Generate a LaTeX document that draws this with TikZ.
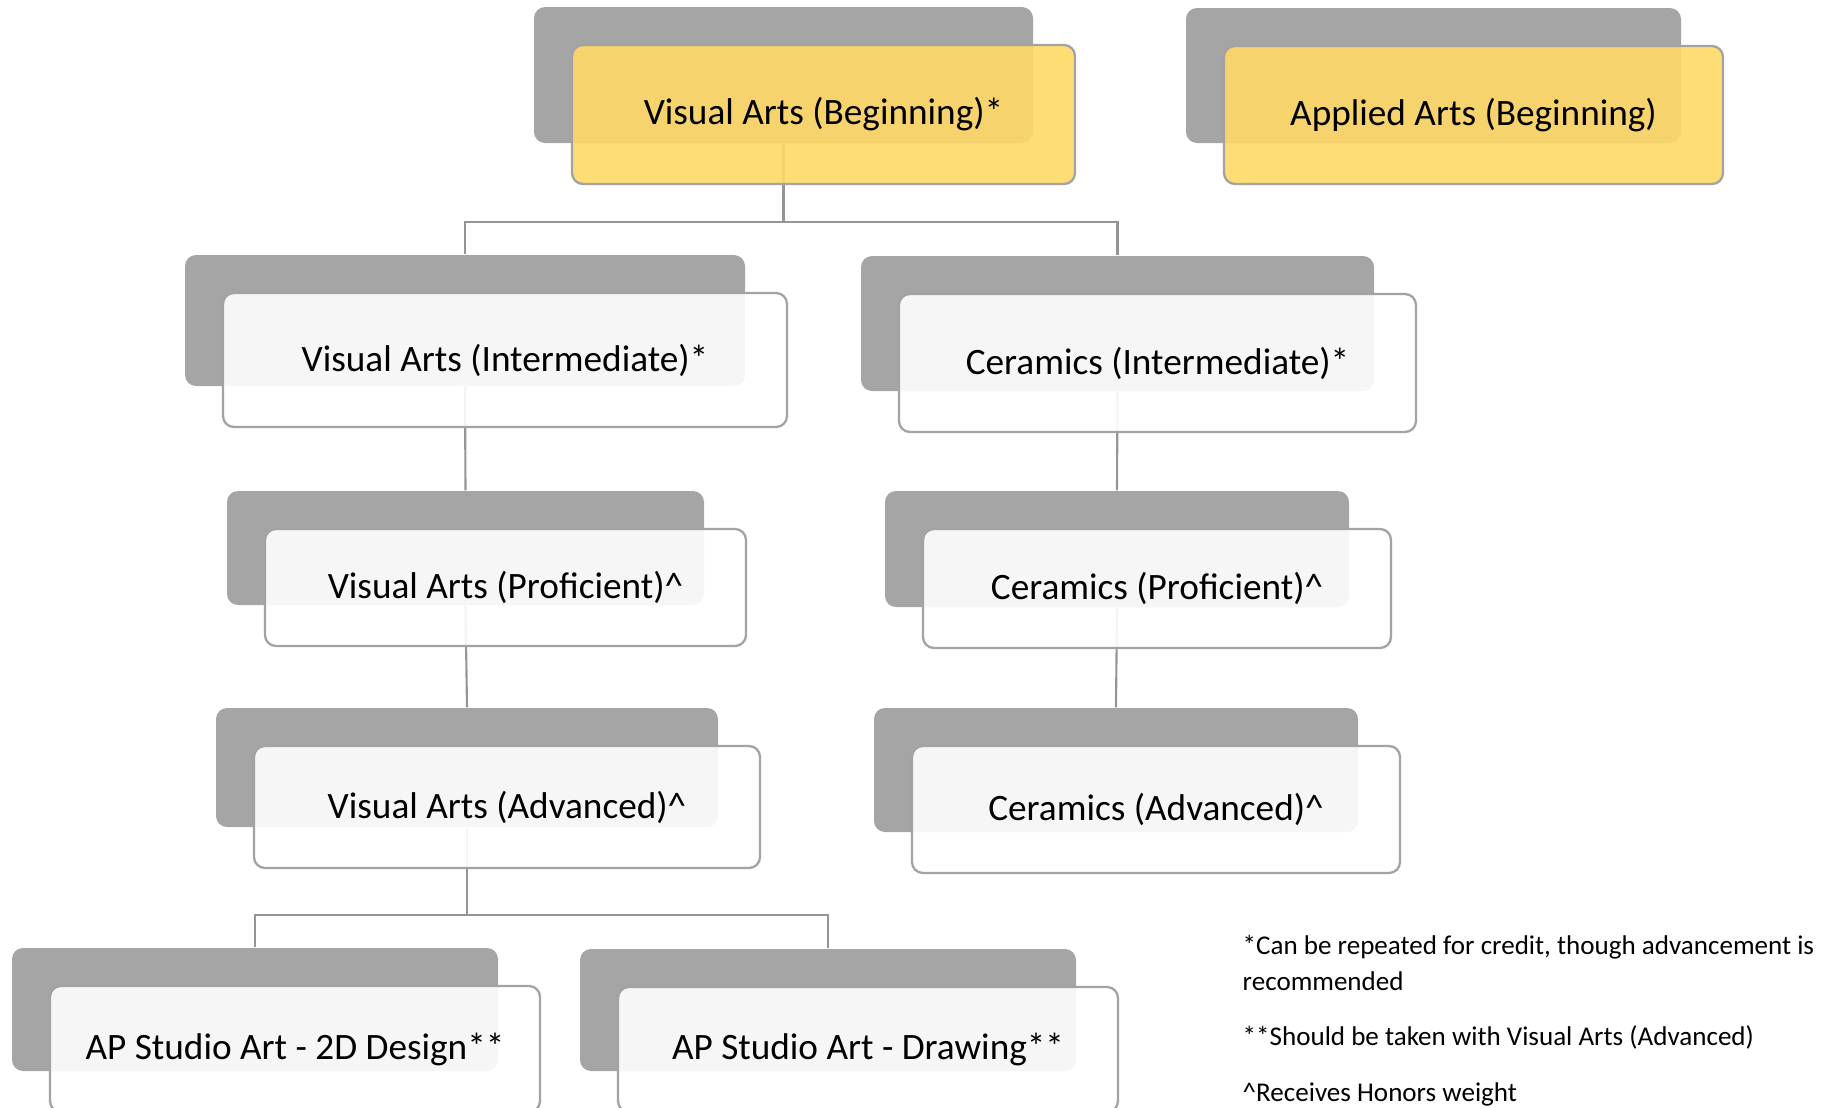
\documentclass[tikz,border=0pt]{standalone}
\usepackage{fontspec}
\setmainfont{Carlito}
\usetikzlibrary{positioning,backgrounds}

\definecolor{shade}{HTML}{A5A5A5}
\definecolor{rim}{HTML}{A3A3A3}
\definecolor{wire}{HTML}{959595}
\definecolor{gold}{HTML}{FFD966}

\tikzset{
  back/.style={fill=shade, rounded corners=1.1mm, inner sep=0pt},
  front/.style={draw=rim, line width=0.65pt, rounded corners=1.1mm, inner sep=0pt,
    fill opacity=0.9, text opacity=1, font=\fontsize{10.6}{13}\selectfont},
  gold box/.style={front, fill=gold},
  pale box/.style={front, fill=white},
  link/.style={draw=wire, line width=0.6pt},
  note/.style={anchor=west, align=left, inner sep=0pt, font=\fontsize{7.7}{10.3}\selectfont}
}

% gray card + lighter card on top, the top one a little larger
\newcommand{\course}[6]{%
  \node[back, minimum width=#3cm, minimum height=#4cm] (#1) at (#2) {};
  \node[#5, minimum width=#3cm+0.4mm, minimum height=#4cm+0.3mm] (#1F)
    at ([shift={(0.40,-0.395)}]#1.center) {#6};
}

\begin{document}
\begin{tikzpicture}
	\useasboundingbox (0,0) rectangle (18.32,-11.08);

	\course{vabeg}{7.835,-0.75}{4.99}{1.36}{gold box}{Visual Arts (Beginning)*}
	\course{appbeg}{14.335,-0.755}{4.95}{1.35}{gold box}{Applied Arts (Beginning)}

	\course{vaint}{4.65,-3.205}{5.60}{1.31}{pale box}{Visual Arts (Intermediate)*}
	\course{cerint}{11.175,-3.235}{5.13}{1.35}{pale box}{Ceramics (Intermediate)*}

	\course{vaprof}{4.655,-5.48}{4.77}{1.14}{pale box}{Visual Arts (Proficient)\^{}}
	\course{cerprof}{11.17,-5.49}{4.64}{1.16}{pale box}{Ceramics (Proficient)\^{}}

	\course{vaadv}{4.67,-7.675}{5.02}{1.19}{pale box}{Visual Arts (Advanced)\^{}}
	\course{ceradv}{11.16,-7.70}{4.84}{1.24}{pale box}{Ceramics (Advanced)\^{}}

	\course{ap2d}{2.55,-10.095}{4.86}{1.23}{pale box}{AP Studio Art - 2D Design**}
	\course{apdraw}{8.28,-10.10}{4.96}{1.22}{pale box}{AP Studio Art - Drawing**}

	\begin{pgfonlayer}{background}
		\draw[link] (vabeg.south) -- ++(0,-0.78) -| (vaint.north);
		\draw[link] (vabeg.south) -- ++(0,-0.78) -| (cerint.north);
		\draw[link] (vaint.south) -- (vaprof.north);
		\draw[link] (vaprof.south) -- (vaadv.north);
		\draw[link] (cerint.south) -- (cerprof.north);
		\draw[link] (cerprof.south) -- (ceradv.north);
		\draw[link] (vaadv.south) -- ++(0,-0.87) -| (ap2d.north);
		\draw[link] (vaadv.south) -- ++(0,-0.87) -| (apdraw.north);
	\end{pgfonlayer}

	\node[note] (star) at (12.42,-9.63) {*Can be repeated for credit, though advancement is\\recommended};
	\node[note] (dstar) at (12.42,-10.37) {**Should be taken with Visual Arts (Advanced)};
	\node[note] (caret) at (12.42,-10.94) {\^{}Receives Honors weight};
\end{tikzpicture}
\end{document}
